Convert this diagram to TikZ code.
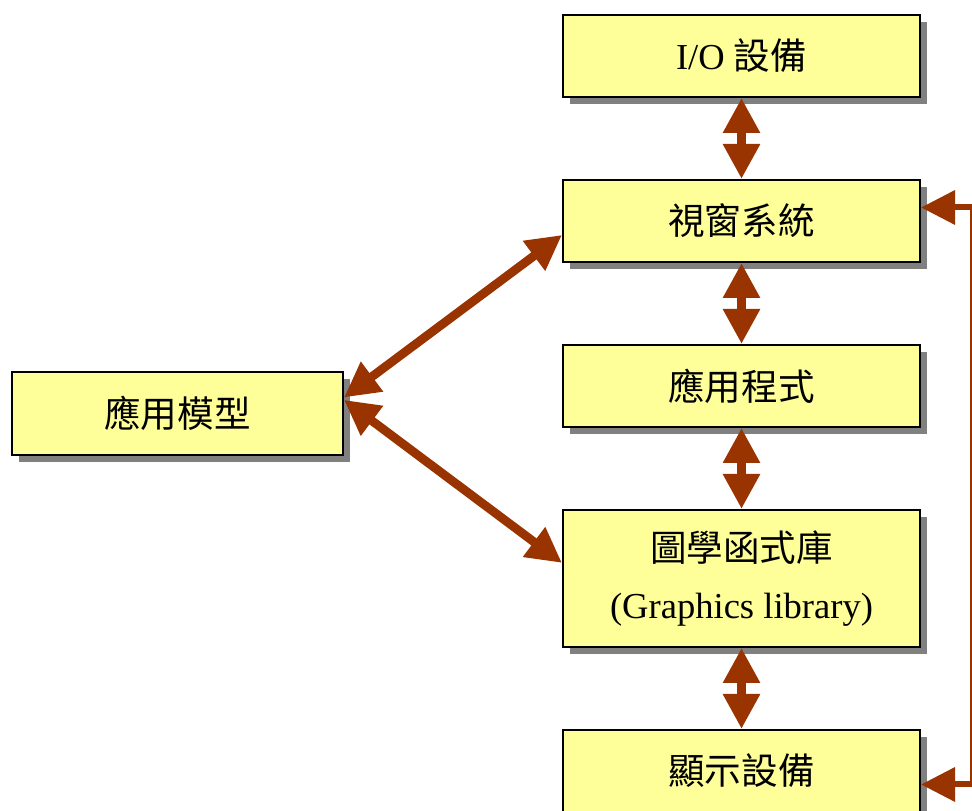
\documentclass[tikz,border=0pt]{standalone}
\usepackage{fontspec}
\setmainfont{Liberation Serif}
\newfontfamily\cjk{Noto Sans CJK TC}
\usetikzlibrary{positioning,calc,shadows,arrows.meta}

\definecolor{boxyellow}{RGB}{255,255,153}
\definecolor{arrowbrown}{RGB}{153,51,0}
\definecolor{shadowgray}{RGB}{128,128,128}

\begin{document}
\begin{tikzpicture}[
                layer/.style={rectangle, draw=black, line width=0.05cm, fill=boxyellow,
                    minimum width=8.925cm, minimum height=2.05cm, align=center,
                    font=\fontsize{26}{40}\selectfont,
                    drop shadow={shadow xshift=0.17cm, shadow yshift=-0.17cm, fill=shadowgray, opacity=1}},
                dblarrow/.style={draw=arrowbrown, line width=0.22cm,
                    {Triangle[length=0.875cm,width=0.875cm,fill=arrowbrown]}-{Triangle[length=0.875cm,width=0.875cm,fill=arrowbrown]}},
                sidearrow/.style={draw=arrowbrown, line width=0.15cm,
                    -{Triangle[length=0.85cm,width=0.83cm,fill=arrowbrown]}},
            ]

            \useasboundingbox (0,0) rectangle (24.3,20.275);

            % layers on the right
            \node[layer] (io) at (18.5375, 18.875) {I/O {\cjk 設備}};
            \node[layer] (window) at (18.5375, 14.75) {\cjk 視窗系統};
            \node[layer] (app) at (18.5375, 10.625) {\cjk 應用程式};
            \node[layer, minimum height=3.425cm] (lib) at (18.5375, 5.8125) {{\cjk 圖學函式庫}\\(Graphics library)};
            \node[layer] (display) at (18.5375, 1.0) {\cjk 顯示設備};

            % model on the left
            \node[layer, minimum width=8.275cm, minimum height=2.075cm] (model) at (4.4375, 9.9375) {\cjk 應用模型};

            % vertical links
            \draw[dblarrow] (io.south) -- (window.north);
            \draw[dblarrow] (window.south) -- (app.north);
            \draw[dblarrow] (app.south) -- (lib.north);
            \draw[dblarrow] (lib.south) -- (display.north);

            % model links
            \draw[dblarrow] ([yshift=0.4cm]model.east) -- ([yshift=-0.35cm]window.west);
            \draw[dblarrow] ([yshift=0.34cm]model.east) -- ([yshift=0.39cm]lib.west);

            % feedback on the right side
            \coordinate (rtop) at (24.2625, 15.0875);
            \coordinate (rbot) at (24.2625, 0.6625);
            \draw[arrowbrown, line width=0.05cm] (rtop) -- (rbot);
            \draw[sidearrow] ([xshift=0.05cm]rtop) -- (rtop -| window.east);
            \draw[sidearrow] ([xshift=0.05cm]rbot) -- (rbot -| display.east);
        \end{tikzpicture}
\end{document}
